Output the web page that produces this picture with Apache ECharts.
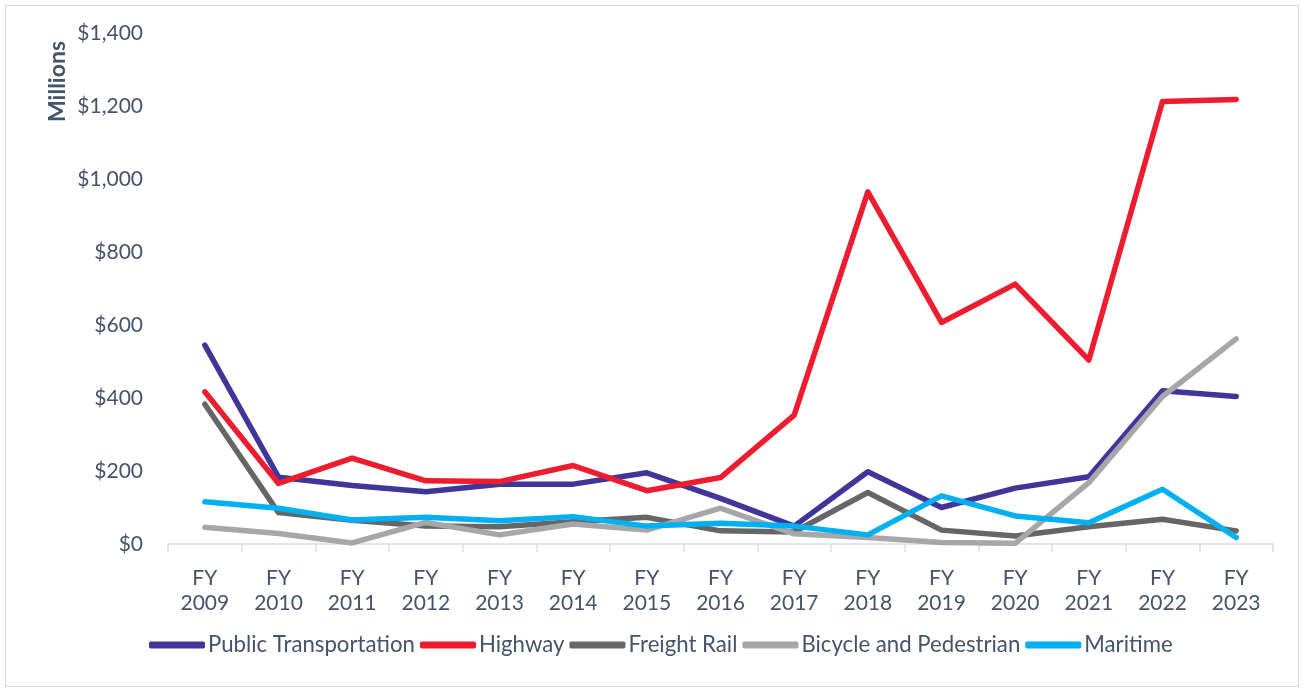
<!DOCTYPE html>
<html>
<head>
<meta charset="utf-8">
<script src="https://cdn.jsdelivr.net/npm/echarts@6/dist/echarts.min.js"></script>
<style>
html,body{margin:0;padding:0;background:#fff;}
#frame{position:absolute;left:5px;top:5px;width:1294px;height:682px;border:1px solid #D9D9D9;box-sizing:border-box;}
#chart{position:absolute;left:0;top:0;width:1305px;height:692px;}
</style>
</head>
<body>
<div id="frame"></div>
<div id="chart"></div>
<script>
const categories = ['FY\n2009','FY\n2010','FY\n2011','FY\n2012','FY\n2013','FY\n2014','FY\n2015','FY\n2016','FY\n2017','FY\n2018','FY\n2019','FY\n2020','FY\n2021','FY\n2022','FY\n2023'];
const publicTransportation = [545, 183, 160, 143, 164, 164, 195, 125, 49, 198, 100, 153, 184, 420, 404];
const highway = [417, 166, 235, 173, 171, 215, 146, 182, 353, 965, 607, 712, 504, 1212, 1218];
const freightRail = [383, 86, 65, 49, 47, 61, 73, 36, 33, 141, 38, 22, 47, 68, 36];
const bicyclePedestrian = [46, 29, 3, 59, 25, 55, 38, 98, 28, 18, 4, 2, 168, 404, 562];
const maritime = [116, 98, 66, 73, 64, 75, 49, 57, 49, 25, 132, 77, 58, 150, 18];
const yTicks = {min: 0, max: 1400, interval: 200};

const textColor = '#44546A';
const font = 'Lato, "Open Sans", sans-serif';
function mk(name, data, color){
  return {name, type:'line', data, symbol:'none', smooth:false,
    lineStyle:{width:5.5, color, cap:'round', join:'round'}, itemStyle:{color}};
}
const chart = echarts.init(document.getElementById('chart'));
chart.setOption({
  animation:false,
  grid:{left:168, right:32, top:33, bottom:148, containLabel:false},
  legend:{top:629, left:144, itemWidth:56, itemHeight:7, itemGap:5,
    icon:'roundRect',
    textStyle:{color:textColor, fontSize:22.2, fontFamily:font, padding:[0,0,0,-2]},
    data:['Public Transportation','Highway','Freight Rail','Bicycle and Pedestrian','Maritime']},
  xAxis:{type:'category', data:categories, boundaryGap:true,
    axisLine:{lineStyle:{color:'#D9DEE6', width:1.5}},
    axisTick:{show:true, length:8, lineStyle:{color:'#D9DEE6', width:1.5}},
    axisLabel:{color:textColor, fontSize:21, fontFamily:font, lineHeight:25, margin:22, interval:0}},
  yAxis:{type:'value', min:yTicks.min, max:yTicks.max, interval:yTicks.interval,
    splitLine:{show:false}, axisLine:{show:false}, axisTick:{show:false},
    axisLabel:{color:textColor, fontSize:21, fontFamily:font, margin:25,
      formatter:v=>'$'+v.toLocaleString('en-US')}},
  graphic:[{type:'text', left:46, top:41, rotation:Math.PI/2,
    style:{text:'Millions', fill:textColor, font:'bold 23px '+font}}],
  series:[
    mk('Public Transportation', publicTransportation, '#403598'),
    mk('Highway', highway, '#ED1C2E'),
    mk('Freight Rail', freightRail, '#666666'),
    mk('Bicycle and Pedestrian', bicyclePedestrian, '#A7A7AA'),
    mk('Maritime', maritime, '#00B0F0')
  ]
});
</script>
</body>
</html>
